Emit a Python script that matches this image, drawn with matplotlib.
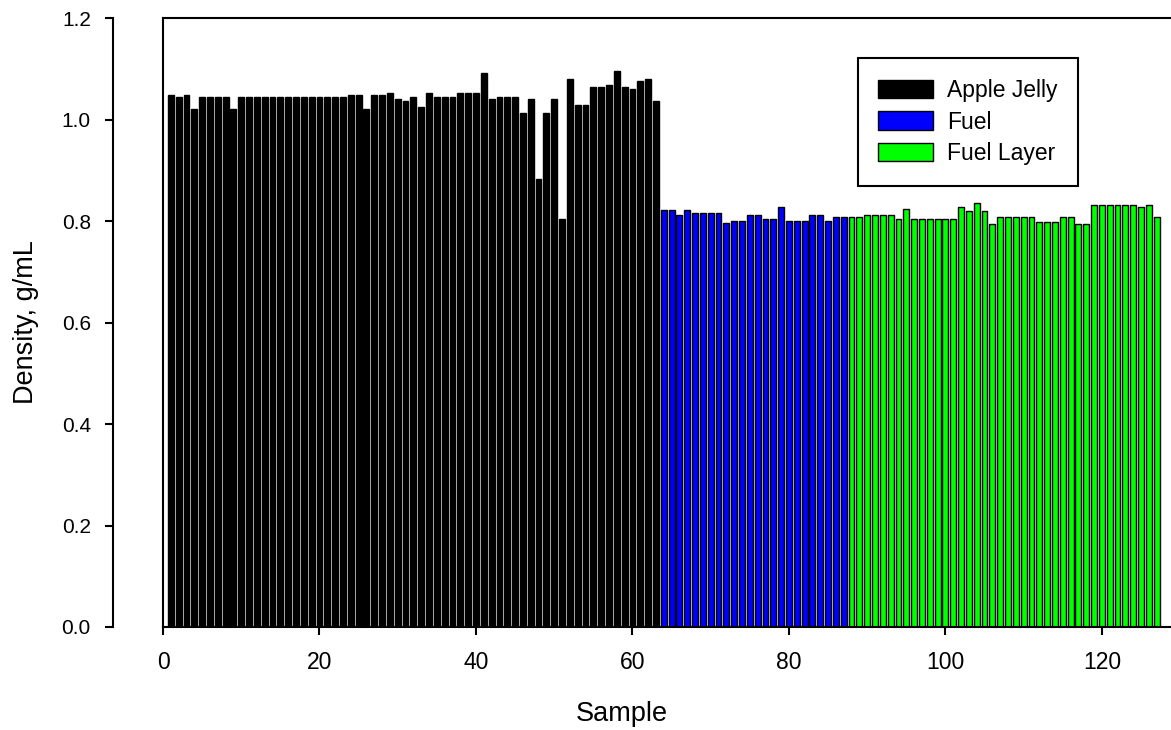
import numpy as np
import matplotlib
matplotlib.use("Agg")
import matplotlib.pyplot as plt

plt.rcParams['font.family'] = ['Liberation Sans', 'DejaVu Sans']

# densities (g/mL)
apple_jelly = [1.049, 1.045, 1.049, 1.021, 1.045, 1.045, 1.045, 1.045, 1.021, 1.045,
               1.045, 1.045, 1.045, 1.045, 1.045, 1.045, 1.045, 1.045, 1.045, 1.045,
               1.045, 1.045, 1.045, 1.049, 1.049, 1.021, 1.049, 1.049, 1.053, 1.041,
               1.037, 1.045, 1.025, 1.053, 1.045, 1.045, 1.045, 1.053, 1.053, 1.053,
               1.092, 1.041, 1.045, 1.045, 1.045, 1.013, 1.041, 0.883, 1.013, 1.041,
               0.804, 1.080, 1.029, 1.029, 1.065, 1.065, 1.069, 1.096, 1.065, 1.061,
               1.076, 1.080, 1.037]
fuel = [0.822, 0.822, 0.812, 0.822, 0.816, 0.816, 0.816, 0.816, 0.797, 0.801,
        0.801, 0.812, 0.812, 0.804, 0.804, 0.827, 0.801, 0.801, 0.801, 0.812,
        0.812, 0.801, 0.808, 0.808]
fuel_layer = [0.808, 0.808, 0.812, 0.812, 0.812, 0.812, 0.803, 0.823, 0.803, 0.803,
              0.803, 0.803, 0.803, 0.803, 0.827, 0.819, 0.835, 0.819, 0.795, 0.807,
              0.807, 0.807, 0.807, 0.807, 0.799, 0.799, 0.799, 0.807, 0.807, 0.795,
              0.795, 0.831, 0.831, 0.831, 0.831, 0.831, 0.831, 0.827, 0.831, 0.807]

x_aj = np.arange(1, len(apple_jelly) + 1)
x_fuel = np.arange(x_aj[-1] + 1, x_aj[-1] + 1 + len(fuel))
x_fl = np.arange(x_fuel[-1] + 1, x_fuel[-1] + 1 + len(fuel_layer))

fig = plt.figure(figsize=(11.71, 7.30), dpi=100)
ax = fig.add_axes([0.1392, 0.1411, 0.8686, 0.8342])

w = 0.75
ax.bar(x_aj, apple_jelly, width=w, color='black', edgecolor='black', linewidth=1.0, label='Apple Jelly')
ax.bar(x_fuel, fuel, width=w, color='#0000ff', edgecolor='black', linewidth=1.0, label='Fuel')
ax.bar(x_fl, fuel_layer, width=w, color='#00ff00', edgecolor='black', linewidth=1.0, label='Fuel Layer')

ax.set_xlim(0, 130)
ax.set_ylim(0, 1.2)
ax.set_xticks([0, 20, 40, 60, 80, 100, 120])
ax.set_yticks([0.0, 0.2, 0.4, 0.6, 0.8, 1.0, 1.2])
ax.set_yticklabels(['0.0', '0.2', '0.4', '0.6', '0.8', '1.0', '1.2'])

ax.spines['right'].set_visible(False)
ax.spines['left'].set_position(('outward', 36))
for s in ['left', 'bottom', 'top']:
    ax.spines[s].set_linewidth(1.5)
# frame line at x = 0
ax.plot([0, 0], [0, 1], transform=ax.transAxes, color='black', lw=1.5, clip_on=False)

ax.tick_params(axis='y', direction='out', length=6, width=1.5, labelsize=15, pad=10)
ax.tick_params(axis='x', direction='out', length=6, width=1.5, labelsize=16.5, pad=11)

ax.set_xlabel('Sample', fontsize=19.5, va='baseline')
ax.xaxis.set_label_coords(0.4513, -0.1544)
ax.set_ylabel('Density, g/mL', fontsize=19.5, va='center')
ax.yaxis.set_label_coords(-0.1347, 0.5)

leg = ax.legend(loc='upper left', bbox_to_anchor=(0.683, 0.934), borderaxespad=0,
                fontsize=16.5, fancybox=False, edgecolor='black', framealpha=1,
                handlelength=2.4, handleheight=0.85, borderpad=0.9, labelspacing=0.38,
                handletextpad=0.6)
leg.get_frame().set_linewidth(1.5)

fig.savefig('out.png', dpi=100)
